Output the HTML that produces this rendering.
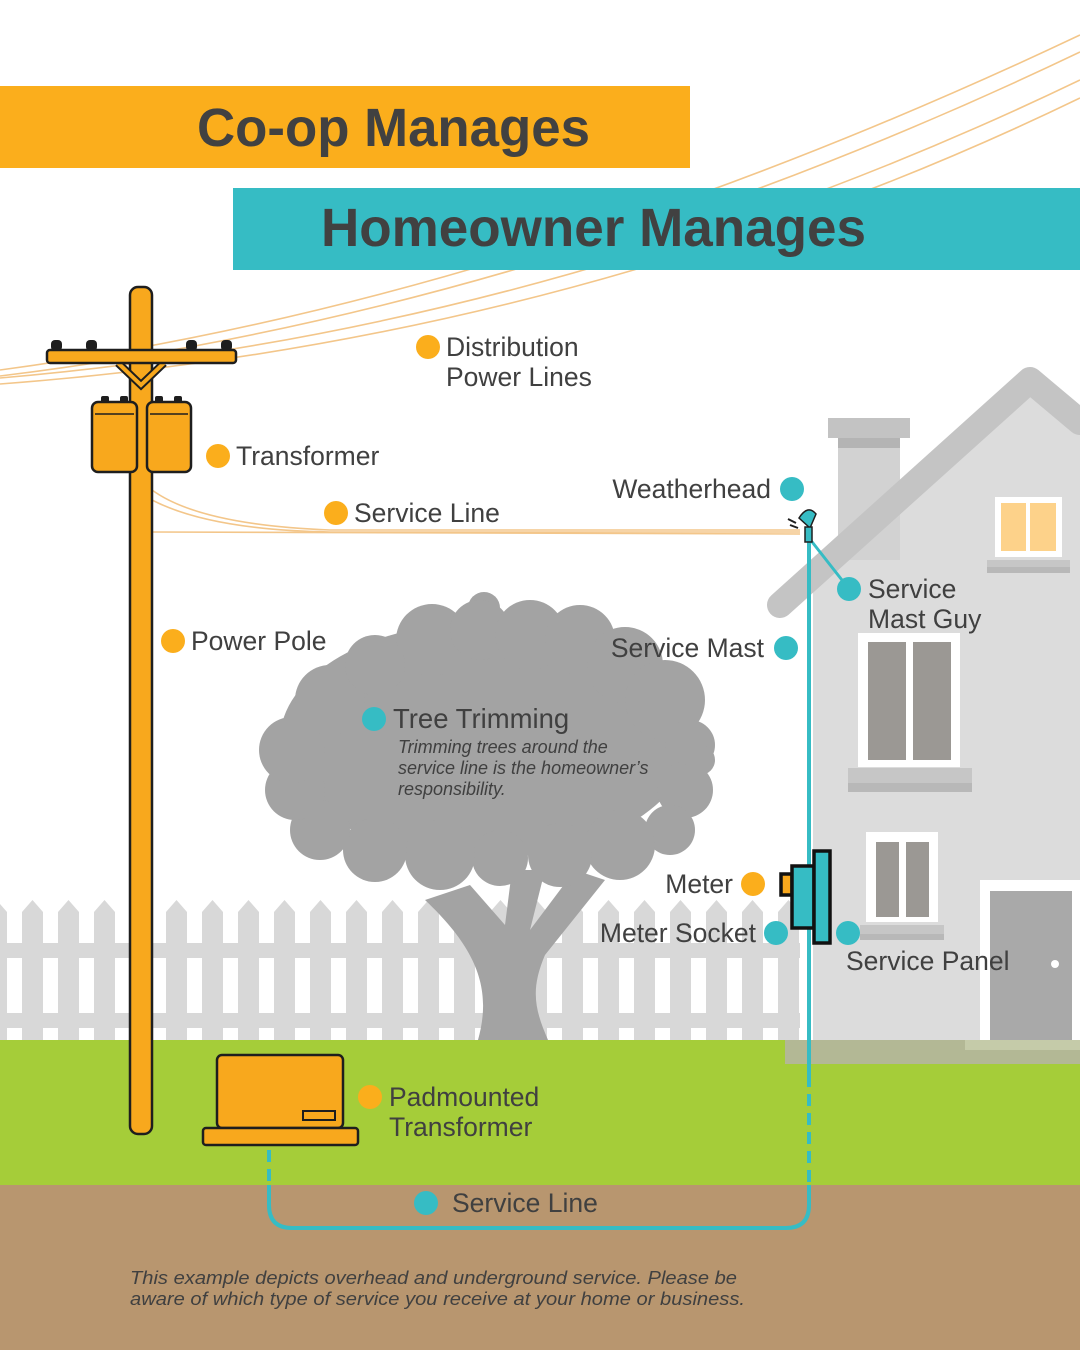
<!DOCTYPE html>
<html><head><meta charset="utf-8"><style>html,body{margin:0;padding:0;background:#fff}svg{display:block}</style></head>
<body>
<svg width="1080" height="1350" viewBox="0 0 1080 1350" xmlns="http://www.w3.org/2000/svg" font-family="Liberation Sans, sans-serif">
<rect width="1080" height="1350" fill="#fff"/>
<g fill="none" stroke="#f3c68a" stroke-width="1.6">
<path d="M0 370 Q520 300 1080 35"/>
<path d="M0 376 Q540 310 1080 52"/>
<path d="M0 378 Q560 330 1080 80"/>
<path d="M0 384 Q580 340 1080 98"/>
</g>
<rect x="0" y="86" width="690" height="82" fill="#fbae1c"/>
<text x="197" y="146" font-size="54" font-weight="bold" fill="#414141" textLength="393" lengthAdjust="spacingAndGlyphs">Co-op Manages</text>
<rect x="233" y="188" width="847" height="82" fill="#36bcc4"/>
<text x="321" y="246" font-size="54" font-weight="bold" fill="#414141" textLength="545" lengthAdjust="spacingAndGlyphs">Homeowner Manages</text>

<rect x="0" y="1040" width="1080" height="146" fill="#a5cd39"/>
<rect x="0" y="1185" width="1080" height="165" fill="#b8966f"/>

<polygon points="813,585 1030,392 1080,432 1080,1040 813,1040" fill="#dcdcdc"/>
<rect x="838" y="440" width="62" height="120" fill="#d2d2d2"/>
<rect x="828" y="418" width="82" height="20" fill="#c3c3c3"/>
<rect x="838" y="438" width="62" height="10" fill="#b4b4b4"/>
<polyline points="780,605 1030,380 1080,422" fill="none" stroke="#c4c4c4" stroke-width="26" stroke-linecap="round" stroke-linejoin="round"/>
<rect x="995" y="497" width="67" height="60" fill="#fff"/>
<rect x="1001" y="503" width="25" height="48" fill="#fdd28a"/><rect x="1030" y="503" width="26" height="48" fill="#fdd28a"/>
<rect x="987" y="560" width="83" height="7" fill="#c6c6c6"/><rect x="987" y="567" width="83" height="6" fill="#b8b8b8"/>
<rect x="858" y="633" width="102" height="134" fill="#fff"/>
<rect x="868" y="642" width="38" height="118" fill="#9b9894"/><rect x="913" y="642" width="38" height="118" fill="#9b9894"/>
<rect x="848" y="768" width="124" height="15" fill="#c6c6c6"/><rect x="848" y="783" width="124" height="9" fill="#b8b8b8"/>
<rect x="866" y="832" width="72" height="90" fill="#fff"/>
<rect x="876" y="842" width="23" height="75" fill="#9b9894"/><rect x="906" y="842" width="23" height="75" fill="#9b9894"/>
<rect x="860" y="925" width="84" height="9" fill="#c6c6c6"/><rect x="860" y="934" width="84" height="6" fill="#b8b8b8"/>
<rect x="980" y="880" width="100" height="160" fill="#fff"/>
<rect x="990" y="891" width="82" height="149" fill="#a9a9a9"/>
<circle cx="1055" cy="964" r="4" fill="#fff"/>
<rect x="785" y="1040" width="295" height="24" fill="#b3b895"/>
<rect x="965" y="1040" width="115" height="10" fill="#c5cba9"/>

<g fill="#d8d8d8">
<rect x="0" y="943" width="800" height="15"/>
<rect x="0" y="1013" width="800" height="15"/>
<path id="pk" d="M-14 912 L-3.5 900 L7 912 L7 1040 L-14 1040Z"/>
<use href="#pk" x="36"/><use href="#pk" x="72"/><use href="#pk" x="108"/><use href="#pk" x="144"/><use href="#pk" x="180"/><use href="#pk" x="216"/><use href="#pk" x="252"/><use href="#pk" x="288"/><use href="#pk" x="324"/><use href="#pk" x="360"/><use href="#pk" x="396"/><use href="#pk" x="432"/><use href="#pk" x="468"/><use href="#pk" x="504"/><use href="#pk" x="540"/><use href="#pk" x="576"/><use href="#pk" x="612"/><use href="#pk" x="648"/><use href="#pk" x="684"/><use href="#pk" x="720"/><use href="#pk" x="756"/><use href="#pk" x="792"/>
</g>

<g fill="#a3a3a3">
<path d="M478 1040 C492 990 478 950 425 900 L470 885 L505 925 L512 870 L545 870 L530 930 L575 870 L605 880 L545 955 C530 990 535 1010 548 1040Z"/>
<ellipse cx="485" cy="740" rx="205" ry="118"/>
<circle cx="484" cy="608" r="16"/><circle cx="432" cy="640" r="36"/><circle cx="480" cy="630" r="30"/>
<circle cx="530" cy="635" r="35"/><circle cx="580" cy="640" r="35"/><circle cx="625" cy="665" r="38"/>
<circle cx="665" cy="700" r="40"/><circle cx="690" cy="745" r="25"/><circle cx="685" cy="790" r="28"/>
<circle cx="670" cy="830" r="25"/><circle cx="620" cy="845" r="35"/><circle cx="560" cy="855" r="32"/>
<circle cx="500" cy="858" r="28"/><circle cx="440" cy="855" r="35"/><circle cx="375" cy="850" r="32"/>
<circle cx="320" cy="830" r="30"/><circle cx="295" cy="790" r="30"/><circle cx="292" cy="750" r="33"/>
<circle cx="330" cy="700" r="35"/><circle cx="375" cy="665" r="30"/><circle cx="700" cy="760" r="15"/>
</g>

<g fill="none" stroke="#f3c68a" stroke-width="1.6">
<path d="M152 490 Q200 525 330 530 L800 530"/>
<path d="M152 500 Q210 530 330 532 L800 532"/>
<path d="M152 532 L800 534"/>
</g>

<g stroke="#1e1e1e" stroke-width="2.5">
<rect x="130" y="287" width="22" height="847" rx="8" fill="#f8a81d"/>
<path d="M118 363 L141 385 L164 363" fill="none" stroke-width="8"/>
<path d="M118 363 L141 385 L164 363" fill="none" stroke="#f8a81d" stroke-width="4"/>
<rect x="47" y="350" width="189" height="13" rx="3" fill="#f8a81d"/>
<rect x="92" y="402" width="45" height="70" rx="6" fill="#f8a81d"/>
<rect x="147" y="402" width="44" height="70" rx="6" fill="#f8a81d"/>
<rect x="217" y="1055" width="126" height="73" rx="5" fill="#f8a81d"/>
<rect x="203" y="1128" width="155" height="17" rx="3" fill="#f8a81d"/>
<rect x="303" y="1111" width="32" height="9" fill="#f8a81d" stroke-width="2"/>
</g>
<g fill="#1e1e1e">
<rect x="51" y="340" width="11" height="11" rx="4"/><rect x="86" y="340" width="11" height="11" rx="4"/>
<rect x="186" y="340" width="11" height="11" rx="4"/><rect x="221" y="340" width="11" height="11" rx="4"/>
<rect x="101" y="396" width="8" height="7" rx="2"/><rect x="120" y="396" width="8" height="7" rx="2"/>
<rect x="155" y="396" width="8" height="7" rx="2"/><rect x="174" y="396" width="8" height="7" rx="2"/>
</g>
<line x1="95" y1="414" x2="134" y2="414" stroke="#1e1e1e" stroke-width="1.5"/>
<line x1="150" y1="414" x2="188" y2="414" stroke="#1e1e1e" stroke-width="1.5"/>

<g fill="none" stroke="#36bcc4" stroke-width="4">
<line x1="809" y1="540" x2="809" y2="1075"/>
<line x1="809" y1="1075" x2="809" y2="1185" stroke-dasharray="12 7"/>
<line x1="269" y1="1150" x2="269" y2="1185" stroke-dasharray="12 7"/>
<path d="M269 1185 L269 1205 Q269 1228 292 1228 L786 1228 Q809 1228 809 1205 L809 1185"/>
<line x1="809" y1="538" x2="849" y2="589" stroke-width="3"/>
</g>
<g stroke="#1e1e1e" stroke-width="1.5" fill="#36bcc4">
<path d="M799 518 Q808 504 816 514 L810 528 Z"/>
<rect x="805" y="527" width="7" height="15"/>
</g>
<g stroke="#1e1e1e" stroke-width="2"><line x1="788" y1="519" x2="796" y2="523"/><line x1="790" y1="525" x2="798" y2="528"/></g>

<g stroke="#111" stroke-width="3.5">
<rect x="781" y="874" width="11" height="21" fill="#f8a81d"/>
<rect x="792" y="866" width="22" height="62" fill="#36bcc4"/>
<rect x="814" y="851" width="16" height="92" fill="#36bcc4"/>
</g>

<g font-size="26.5" fill="#404040">
<circle cx="428" cy="347" r="12" fill="#fbae1c"/>
<text x="446" y="356">Distribution</text><text x="446" y="386">Power Lines</text>
<circle cx="218" cy="456" r="12" fill="#fbae1c"/><text x="236" y="465">Transformer</text>
<circle cx="336" cy="513" r="12" fill="#fbae1c"/><text x="354" y="522">Service Line</text>
<circle cx="173" cy="641" r="12" fill="#fbae1c"/><text x="191" y="650">Power Pole</text>
<circle cx="792" cy="489" r="12" fill="#36bcc4"/><text x="771" y="498" text-anchor="end">Weatherhead</text>
<circle cx="849" cy="589" r="12" fill="#36bcc4"/><text x="868" y="598">Service</text><text x="868" y="628">Mast Guy</text>
<circle cx="786" cy="648" r="12" fill="#36bcc4"/><text x="764" y="657" text-anchor="end">Service Mast</text>
<circle cx="374" cy="719" r="12" fill="#36bcc4"/><text x="393" y="728" font-size="27.5">Tree Trimming</text>
<circle cx="753" cy="884" r="12" fill="#fbae1c"/><text x="733" y="893" text-anchor="end">Meter</text>
<circle cx="776" cy="933" r="12" fill="#36bcc4"/><text x="756" y="942" text-anchor="end">Meter Socket</text>
<circle cx="848" cy="933" r="12" fill="#36bcc4"/><text x="846" y="970">Service Panel</text>
<circle cx="370" cy="1097" r="12" fill="#fbae1c"/><text x="389" y="1106">Padmounted</text><text x="389" y="1136">Transformer</text>
<circle cx="426" cy="1203" r="12" fill="#36bcc4"/><text x="452" y="1212">Service Line</text>
</g>
<g font-size="18" font-style="italic" fill="#404040">
<text x="398" y="753">Trimming trees around the</text>
<text x="398" y="774">service line is the homeowner’s</text>
<text x="398" y="795">responsibility.</text>
<text x="130" y="1284" textLength="607" lengthAdjust="spacingAndGlyphs">This example depicts overhead and underground service. Please be</text>
<text x="130" y="1305" textLength="615" lengthAdjust="spacingAndGlyphs">aware of which type of service you receive at your home or business.</text>
</g>
</svg>
</body></html>
